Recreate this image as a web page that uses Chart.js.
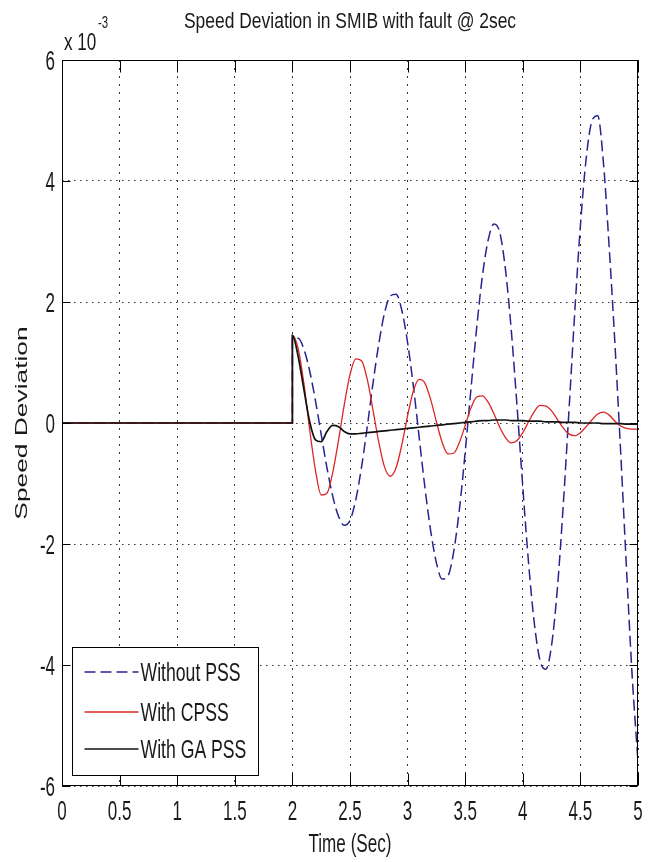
<!DOCTYPE html>
<html>
<head>
<meta charset="utf-8">
<title>Speed Deviation in SMIB with fault @ 2sec</title>
<script src="https://cdn.jsdelivr.net/npm/chart.js@4.4.1/dist/chart.umd.min.js"></script>
<style>
    html, body { margin: 0; padding: 0; background: #fff; }
    #chart { display: block; }
</style>
</head>
<body>
<canvas id="chart" width="656" height="862"></canvas>
<script>
// Time (sec); the fault at 2 s shows as a vertical step, so 2 appears twice
const times = [
    0, 2, 2,
    2.05, 2.10, 2.15, 2.20, 2.25, 2.30, 2.35, 2.40, 2.45, 2.50,
    2.55, 2.60, 2.65, 2.70, 2.75, 2.80, 2.85, 2.90, 2.95, 3.00,
    3.05, 3.10, 3.15, 3.20, 3.25, 3.30, 3.35, 3.40, 3.45, 3.50,
    3.55, 3.60, 3.65, 3.70, 3.75, 3.80, 3.85, 3.90, 3.95, 4.00,
    4.05, 4.10, 4.15, 4.20, 4.25, 4.30, 4.35, 4.40, 4.45, 4.50,
    4.55, 4.60, 4.65, 4.70, 4.75, 4.80, 4.85, 4.90, 4.95, 5.00
];

// Speed deviation, in units of 1e-3
const withoutPss = [
    0, 0, 1.40,
    1.40, 1.22, 0.86, 0.37, -0.19, -0.74, -1.21, -1.54, -1.69, -1.61,
    -1.27, -0.73, -0.06, 0.66, 1.31, 1.82, 2.10, 2.13, 1.86, 1.33,
    0.61, -0.23, -1.06, -1.78, -2.31, -2.58, -2.53, -2.13, -1.42, -0.48,
    0.56, 1.58, 2.44, 3.03, 3.29, 3.15, 2.53, 1.53, 0.28, -1.06,
    -2.31, -3.31, -3.93, -4.07, -3.67, -2.74, -1.39, 0.18, 1.80, 3.26,
    4.37, 4.99, 5.08, 4.30, 2.90, 1.30, -0.50, -2.40, -4.20, -5.60
];

const withCpss = [
    0, 0, 1.45,
    1.23, 0.65, -0.11, -0.78, -1.19, -1.16, -0.82, -0.29, 0.30, 0.80,
    1.06, 1.03, 0.72, 0.21, -0.32, -0.73, -0.88, -0.74, -0.36, 0.12,
    0.53, 0.72, 0.66, 0.39, 0.02, -0.32, -0.51, -0.50, -0.32, -0.04,
    0.25, 0.43, 0.45, 0.34, 0.15, -0.07, -0.24, -0.33, -0.29, -0.16,
    0.02, 0.19, 0.29, 0.28, 0.20, 0.06, -0.08, -0.18, -0.21, -0.16,
    -0.06, 0.05, 0.15, 0.18, 0.13, 0.03, -0.05, -0.09, -0.10, -0.10
];

const withGaPss = [
    0, 0, 1.45,
    1.10, 0.55, 0.02, -0.28, -0.31, -0.14, -0.04, -0.06, -0.14, -0.18,
    -0.18, -0.17, -0.16, -0.15, -0.14, -0.13, -0.12, -0.11, -0.10, -0.09,
    -0.08, -0.07, -0.06, -0.05, -0.04, -0.03, -0.02, -0.01, 0.00, 0.01,
    0.02, 0.03, 0.04, 0.04, 0.05, 0.05, 0.05, 0.04, 0.04, 0.04,
    0.03, 0.03, 0.03, 0.02, 0.02, 0.02, 0.01, 0.01, 0.01, 0.00,
    0.00, 0.00, 0.00, -0.01, -0.01, -0.01, -0.01, -0.02, -0.02, -0.02
];

const seriesNames = ['Without PSS', 'With CPSS', 'With GA PSS'];
const xTicks = [0, 0.5, 1, 1.5, 2, 2.5, 3, 3.5, 4, 4.5, 5];
const yTicks = [-6, -4, -2, 0, 2, 4, 6];

const FONT = '"Liberation Sans", Arial, sans-serif';
const INK = '#1a1a1a';

function toPoints(values) {
    return times.map((t, i) => ({ x: t, y: values[i] }));
}

// MATLAB-style text from a resized figure: tall and narrow
function drawText(ctx, text, x, y, size, sx, sy, align) {
    ctx.save();
    ctx.translate(x, y);
    ctx.scale(sx, sy);
    ctx.font = size + 'px ' + FONT;
    ctx.textAlign = align || 'left';
    ctx.textBaseline = 'alphabetic';
    ctx.fillStyle = INK;
    ctx.fillText(text, 0, 0);
    ctx.restore();
}

const framePlugin = {
    id: 'frame',
    afterDraw(chart) {
        const { ctx, chartArea: a, scales: { x, y } } = chart;
        const L = Math.round(a.left) + 0.5, R = Math.round(a.right) - 0.5;
        const T = Math.round(a.top) + 0.5, B = Math.round(a.bottom) - 0.5;

        ctx.save();
        ctx.setLineDash([]);
        ctx.strokeStyle = '#000';
        ctx.lineWidth = 1;

        // axes box
        ctx.strokeRect(L, T, R - L, B - T);

        // inward tick marks on all four sides
        ctx.beginPath();
        xTicks.forEach(v => {
            const px = Math.round(x.getPixelForValue(v)) + 0.5;
            ctx.moveTo(px, B); ctx.lineTo(px, B - 12);
            ctx.moveTo(px, T); ctx.lineTo(px, T + 12);
        });
        yTicks.forEach(v => {
            const py = Math.round(y.getPixelForValue(v)) + 0.5;
            ctx.moveTo(L, py); ctx.lineTo(L + 8, py);
            ctx.moveTo(R, py); ctx.lineTo(R - 8, py);
        });
        ctx.stroke();

        // tick labels
        xTicks.forEach(v => {
            drawText(ctx, String(v), x.getPixelForValue(v), a.bottom + 34, 17, 1.0, 1.6, 'center');
        });
        yTicks.forEach(v => {
            drawText(ctx, String(v), a.left - 7, y.getPixelForValue(v) + 10, 17, 1.0, 1.6, 'right');
        });

        // title, exponent and axis titles
        const cx = (a.left + a.right) / 2;
        drawText(ctx, 'Speed Deviation in SMIB with fault @ 2sec', cx, 28, 18, 0.97, 1.22, 'center');
        drawText(ctx, 'x 10', a.left + 2, 50, 18, 0.95, 1.3, 'left');
        drawText(ctx, '-3', a.left + 36, 28, 12, 0.95, 1.3, 'left');
        drawText(ctx, 'Time (Sec)', cx, a.bottom + 66, 18, 0.95, 1.4, 'center');

        ctx.save();
        ctx.translate(22, (a.top + a.bottom) / 2);
        ctx.rotate(-Math.PI / 2);
        ctx.scale(1.55, 1.0);
        ctx.font = '17px ' + FONT;
        ctx.textAlign = 'center';
        ctx.textBaseline = 'middle';
        ctx.fillStyle = INK;
        ctx.fillText('Speed Deviation', 0, 0);
        ctx.restore();

        // legend box in the lower-left corner
        const box = { left: a.left + 10.5, top: 647.5, width: 186, height: 128 };
        ctx.fillStyle = '#fff';
        ctx.fillRect(box.left, box.top, box.width, box.height);
        ctx.strokeStyle = '#000';
        ctx.lineWidth = 1;
        ctx.strokeRect(box.left, box.top, box.width, box.height);

        const rows = [672, 712, 749];
        chart.data.datasets.forEach((ds, i) => {
            ctx.save();
            ctx.strokeStyle = ds.borderColor;
            ctx.lineWidth = ds.borderWidth;
            ctx.setLineDash(ds.borderDash || []);
            ctx.beginPath();
            ctx.moveTo(box.left + 12, rows[i]);
            ctx.lineTo(box.left + 66, rows[i]);
            ctx.stroke();
            ctx.restore();
            drawText(ctx, ds.label, box.left + 68, rows[i] + 9, 18, 0.98, 1.4, 'left');
        });

        ctx.restore();
    }
};

new Chart(document.getElementById('chart'), {
    type: 'line',
    data: {
        datasets: [{
            label: seriesNames[0],
            data: toPoints(withoutPss),
            borderColor: '#25258f',
            borderWidth: 1.5,
            borderDash: [11, 5],
            order: 3
        }, {
            label: seriesNames[1],
            data: toPoints(withCpss),
            borderColor: '#dc2626',
            borderWidth: 1.3,
            order: 2
        }, {
            label: seriesNames[2],
            data: toPoints(withGaPss),
            borderColor: '#111111',
            borderWidth: 1.7,
            order: 1
        }]
    },
    options: {
        responsive: false,
        animation: false,
        layout: { padding: { top: 60, right: 18, left: 0, bottom: 0 } },
        elements: {
            point: { radius: 0 },
            line: { cubicInterpolationMode: 'monotone', fill: false }
        },
        plugins: {
            legend: { display: false },
            tooltip: { enabled: false }
        },
        scales: {
            x: {
                type: 'linear',
                min: 0,
                max: 5,
                afterBuildTicks: s => { s.ticks = xTicks.map(v => ({ value: v })); },
                afterFit: s => { s.height = 76; },
                ticks: { display: false },
                grid: { color: '#333', lineWidth: 1, drawTicks: false },
                border: { display: false, dash: [2, 6] }
            },
            y: {
                type: 'linear',
                min: -6,
                max: 6,
                afterBuildTicks: s => { s.ticks = yTicks.map(v => ({ value: v })); },
                afterFit: s => { s.width = 62; },
                ticks: { display: false },
                grid: { color: '#333', lineWidth: 1, drawTicks: false },
                border: { display: false, dash: [1.5, 4.5] }
            }
        }
    },
    plugins: [framePlugin]
});
</script>
</body>
</html>
